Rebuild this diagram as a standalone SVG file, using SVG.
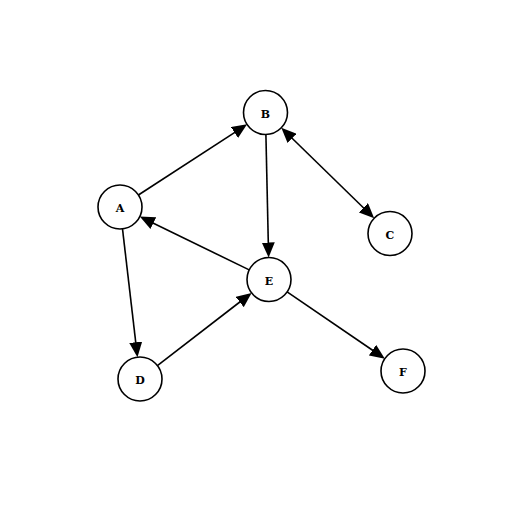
<svg xmlns="http://www.w3.org/2000/svg" width="528" height="528" viewBox="0 0 528 528">
<style>
.node circle{fill:#fff;stroke:#000;stroke-width:1.6}
.node text{font-family:"DejaVu Serif","Liberation Serif",serif;font-weight:bold;font-size:11px;text-anchor:middle;fill:#000}
.edges line{stroke:#000;stroke-width:1.6;fill:none}
</style>
<defs>
<marker id="ah" markerUnits="userSpaceOnUse" markerWidth="15" markerHeight="13" refX="5" refY="6.5" orient="auto">
<path d="M0,0 L15,6.5 L0,13 z" fill="#000"/>
</marker>
<marker id="ahs" markerUnits="userSpaceOnUse" markerWidth="15" markerHeight="13" refX="10" refY="6.5" orient="auto">
<path d="M15,0 L0,6.5 L15,13 z" fill="#000"/>
</marker>
</defs>
<rect width="528" height="528" fill="#fff"/>
<g id="connectors" class="edges">
<line x1="138.4" y1="195.0" x2="238.7" y2="129.8" marker-end="url(#ah)"/>
<line x1="265.9" y1="134.5" x2="268.4" y2="247.5" marker-end="url(#ah)"/>
<line x1="288.5" y1="134.8" x2="367.0" y2="211.2" marker-start="url(#ahs)" marker-end="url(#ah)"/>
<line x1="249.2" y1="269.9" x2="148.8" y2="221.0" marker-end="url(#ah)"/>
<line x1="122.5" y1="228.9" x2="136.3" y2="347.2" marker-end="url(#ah)"/>
<line x1="157.4" y1="365.6" x2="243.7" y2="299.0" marker-end="url(#ah)"/>
<line x1="287.1" y1="291.9" x2="376.6" y2="353.0" marker-end="url(#ah)"/>
</g>
<g id="node-A" class="node"><circle cx="120" cy="207" r="22"/><text x="120" y="212">A</text></g>
<g id="node-B" class="node"><circle cx="265.5" cy="112.5" r="22"/><text x="265.5" y="117.5">B</text></g>
<g id="node-C" class="node"><circle cx="390" cy="233.5" r="22"/><text x="390" y="238.5">C</text></g>
<g id="node-D" class="node"><circle cx="140" cy="379" r="22"/><text x="140" y="384">D</text></g>
<g id="node-E" class="node"><circle cx="269" cy="279.5" r="22"/><text x="269" y="284.5">E</text></g>
<g id="node-F" class="node"><circle cx="403" cy="371" r="22"/><text x="403" y="376">F</text></g>
</svg>
